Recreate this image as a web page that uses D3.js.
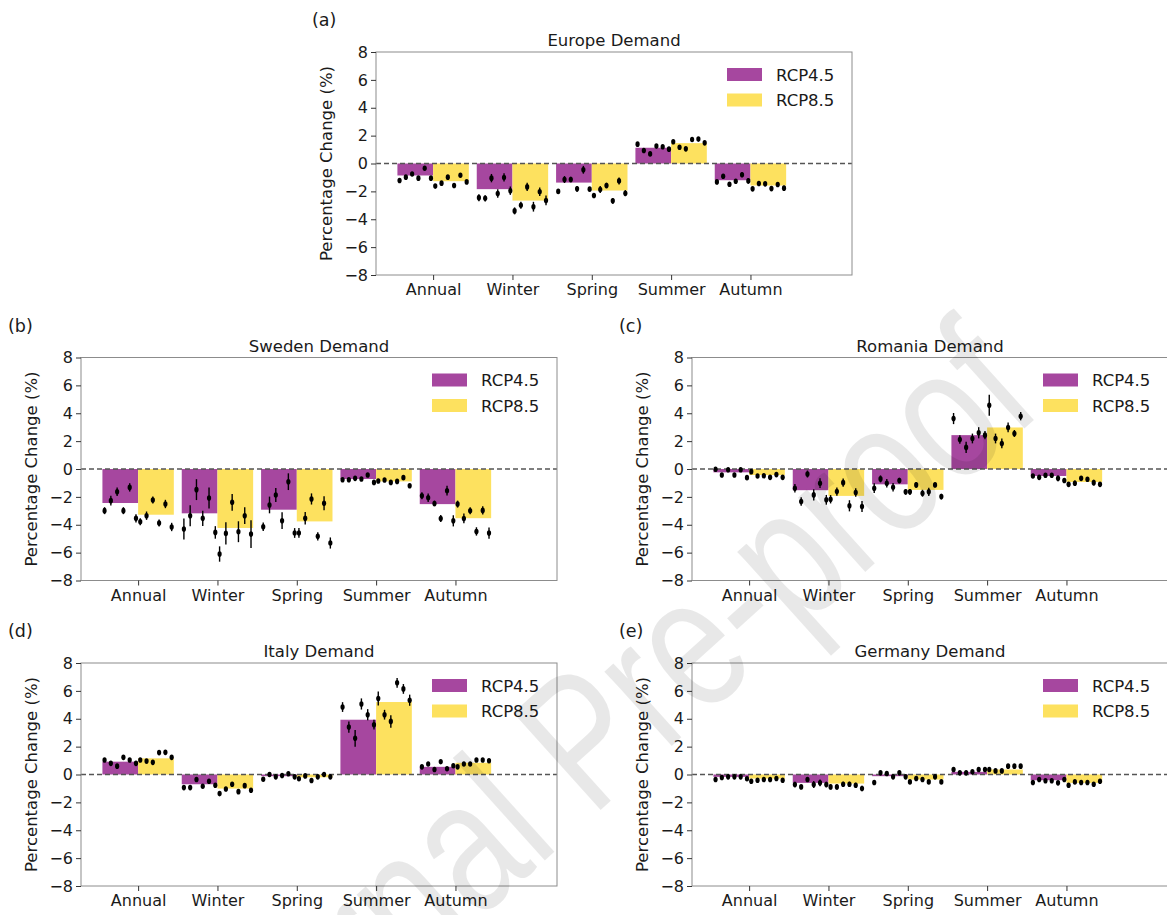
<!DOCTYPE html>
<html lang="en">
<head>
<meta charset="UTF-8">
<title>Percentage Change in Demand</title>
<script src="https://d3js.org/d3.v7.min.js"></script>
<style>
    body { margin: 0; background: #fff; }
    svg { display: block; }
    text { font-family: "DejaVu Sans", sans-serif; fill: #1a1a1a; }
    .axis path { display: none; }
    .axis line { stroke: #333; }
    .axis text { font-size: 16px; fill: #1a1a1a; }
</style>
</head>
<body>
<svg width="1167" height="915"></svg>
<script>
const categories = ["Annual", "Winter", "Spring", "Summer", "Autumn"];
const scenarios = ["RCP4.5", "RCP8.5"];
const yTicks = [-8, -6, -4, -2, 0, 2, 4, 6, 8];

// bar = ensemble mean per season, models = individual runs (6 per bar), err = half length of the whisker
const europeBar45 = [-0.86, -1.84, -1.37, 1.13, -1.20];
const europeBar85 = [-1.27, -2.66, -1.94, 1.46, -1.58];
const europeModels45 = [
    [-1.22, -0.98, -0.75, -1.05, -0.34, -1.05],
    [-2.45, -2.50, -1.05, -2.15, -1.00, -1.95],
    [-2.00, -1.15, -1.15, -1.82, -0.45, -1.84],
    [1.39, 0.93, 0.69, 1.25, 1.20, 1.03],
    [-1.32, -0.91, -1.49, -1.27, -0.81, -1.25]];
const europeErr45 = [
    [0.10, 0.10, 0.10, 0.12, 0.12, 0.12],
    [0.25, 0.22, 0.30, 0.30, 0.30, 0.30],
    [0.15, 0.25, 0.20, 0.20, 0.28, 0.15],
    [0.10, 0.10, 0.12, 0.10, 0.10, 0.10],
    [0.12, 0.15, 0.15, 0.10, 0.18, 0.20]];
const europeModels85 = [
    [-1.62, -1.41, -0.98, -1.58, -0.84, -1.32],
    [-3.40, -3.00, -1.68, -3.10, -2.03, -2.65],
    [-2.30, -1.87, -1.58, -2.68, -1.25, -2.13],
    [1.56, 1.17, 1.05, 1.72, 1.75, 1.48],
    [-1.82, -1.44, -1.46, -1.80, -1.51, -1.77]];
const europeErr85 = [
    [0.10, 0.10, 0.10, 0.10, 0.10, 0.12],
    [0.25, 0.25, 0.30, 0.35, 0.30, 0.35],
    [0.15, 0.25, 0.20, 0.20, 0.25, 0.22],
    [0.12, 0.10, 0.10, 0.10, 0.10, 0.12],
    [0.15, 0.12, 0.12, 0.12, 0.15, 0.18]];

const swedenBar45 = [-2.44, -3.18, -2.92, -0.72, -2.52];
const swedenBar85 = [-3.28, -4.23, -3.76, -0.89, -3.53];
const swedenModels45 = [
    [-2.99, -2.27, -1.63, -2.99, -1.32, -3.54],
    [-4.30, -3.35, -1.48, -3.54, -2.08, -4.55],
    [-4.14, -2.58, -1.87, -3.71, -0.91, -4.59],
    [-0.77, -0.77, -0.67, -0.72, -0.43, -0.96],
    [-1.92, -2.06, -2.47, -3.55, -1.56, -3.72]];
const swedenErr45 = [
    [0.25, 0.35, 0.30, 0.25, 0.30, 0.30],
    [0.75, 0.75, 0.75, 0.55, 0.75, 0.45],
    [0.30, 0.60, 0.50, 0.60, 0.60, 0.35],
    [0.08, 0.08, 0.08, 0.08, 0.08, 0.10],
    [0.25, 0.30, 0.20, 0.25, 0.35, 0.40]];
const swedenModels85 = [
    [-3.78, -3.35, -2.22, -3.88, -2.51, -4.16],
    [-6.10, -4.62, -2.39, -4.50, -3.35, -4.67],
    [-4.59, -3.54, -2.15, -4.83, -2.46, -5.31],
    [-0.86, -0.79, -0.96, -0.89, -0.62, -1.20],
    [-2.52, -3.55, -3.00, -4.48, -2.97, -4.60]];
const swedenErr85 = [
    [0.25, 0.30, 0.25, 0.25, 0.30, 0.30],
    [0.55, 0.80, 0.60, 0.75, 0.60, 1.00],
    [0.35, 0.45, 0.40, 0.30, 0.50, 0.40],
    [0.08, 0.08, 0.08, 0.08, 0.08, 0.10],
    [0.25, 0.35, 0.25, 0.30, 0.30, 0.40]];

const romaniaBar45 = [-0.24, -1.52, -1.10, 2.43, -0.50];
const romaniaBar85 = [-0.43, -1.93, -1.50, 2.98, -0.93];
const romaniaModels45 = [
    [-0.02, -0.43, -0.05, -0.43, -0.05, -0.62],
    [-1.38, -2.33, -0.36, -1.86, -1.02, -2.21],
    [-1.38, -0.71, -1.02, -1.31, -0.83, -1.64],
    [3.62, 2.12, 1.55, 2.19, 2.60, 2.43],
    [-0.50, -0.60, -0.45, -0.45, -0.67, -0.83]];
const romaniaErr45 = [
    [0.10, 0.15, 0.10, 0.15, 0.10, 0.15],
    [0.30, 0.30, 0.25, 0.40, 0.35, 0.35],
    [0.35, 0.25, 0.30, 0.30, 0.20, 0.20],
    [0.40, 0.30, 0.40, 0.35, 0.40, 0.30],
    [0.15, 0.15, 0.15, 0.15, 0.20, 0.15]];
const romaniaModels85 = [
    [-0.19, -0.50, -0.48, -0.60, -0.40, -0.60],
    [-2.17, -1.62, -0.98, -2.64, -1.69, -2.69],
    [-1.64, -1.14, -1.74, -1.64, -1.14, -1.98],
    [4.57, 2.19, 1.83, 2.98, 2.55, 3.79],
    [-1.10, -1.02, -0.67, -0.74, -0.98, -1.10]];
const romaniaErr85 = [
    [0.12, 0.12, 0.12, 0.12, 0.12, 0.12],
    [0.30, 0.30, 0.30, 0.40, 0.30, 0.40],
    [0.20, 0.20, 0.25, 0.30, 0.15, 0.20],
    [0.75, 0.35, 0.35, 0.35, 0.25, 0.30],
    [0.15, 0.20, 0.15, 0.15, 0.20, 0.15]];

const italyBar45 = [0.92, -0.70, -0.12, 3.93, 0.55];
const italyBar85 = [1.16, -1.01, -0.20, 5.20, 0.84];
const italyModels45 = [
    [1.04, 0.80, 0.60, 1.23, 1.04, 0.80],
    [-0.94, -0.94, -0.36, -0.84, -0.48, -0.77],
    [-0.34, 0.00, -0.17, -0.07, 0.05, -0.17],
    [4.84, 3.40, 2.60, 5.06, 4.29, 3.57],
    [0.55, 0.75, 0.36, 0.92, 0.41, 0.63]];
const italyErr45 = [
    [0.10, 0.10, 0.10, 0.10, 0.10, 0.10],
    [0.12, 0.12, 0.12, 0.12, 0.12, 0.12],
    [0.08, 0.08, 0.08, 0.08, 0.08, 0.08],
    [0.35, 0.40, 0.60, 0.40, 0.40, 0.35],
    [0.10, 0.10, 0.10, 0.10, 0.10, 0.10]];
const italyModels85 = [
    [1.04, 0.96, 0.87, 1.57, 1.59, 1.23],
    [-1.37, -1.04, -0.70, -1.23, -0.80, -1.13],
    [-0.31, -0.10, -0.43, -0.17, 0.00, -0.17],
    [5.45, 4.29, 3.81, 6.58, 6.14, 5.33],
    [0.55, 0.75, 0.75, 1.04, 1.04, 0.99]];
const italyErr85 = [
    [0.10, 0.10, 0.10, 0.10, 0.10, 0.10],
    [0.12, 0.12, 0.12, 0.12, 0.12, 0.12],
    [0.08, 0.08, 0.08, 0.08, 0.08, 0.08],
    [0.50, 0.35, 0.45, 0.35, 0.35, 0.40],
    [0.10, 0.10, 0.10, 0.10, 0.10, 0.10]];

const germanyBar45 = [-0.17, -0.60, -0.12, 0.19, -0.41];
const germanyBar85 = [-0.29, -0.65, -0.36, 0.36, -0.60];
const germanyModels45 = [
    [-0.36, -0.22, -0.17, -0.17, -0.17, -0.31],
    [-0.72, -0.89, -0.36, -0.72, -0.60, -0.72],
    [-0.57, 0.12, 0.07, -0.17, 0.12, -0.17],
    [0.36, 0.12, 0.12, 0.19, 0.36, 0.36],
    [-0.57, -0.36, -0.45, -0.45, -0.60, -0.36]];
const germanyErr45 = [
    [0.08, 0.08, 0.08, 0.08, 0.08, 0.08],
    [0.20, 0.12, 0.12, 0.25, 0.25, 0.20],
    [0.10, 0.10, 0.08, 0.08, 0.12, 0.08],
    [0.08, 0.08, 0.08, 0.08, 0.08, 0.08],
    [0.10, 0.08, 0.08, 0.08, 0.10, 0.08]];
const germanyModels85 = [
    [-0.48, -0.41, -0.36, -0.36, -0.29, -0.41],
    [-0.89, -0.89, -0.70, -0.70, -0.77, -1.00],
    [-0.53, -0.29, -0.36, -0.53, -0.17, -0.53],
    [0.36, 0.26, 0.26, 0.60, 0.60, 0.60],
    [-0.77, -0.53, -0.57, -0.57, -0.70, -0.48]];
const germanyErr85 = [
    [0.08, 0.08, 0.08, 0.08, 0.08, 0.08],
    [0.18, 0.18, 0.18, 0.18, 0.18, 0.20],
    [0.10, 0.08, 0.08, 0.10, 0.10, 0.10],
    [0.08, 0.08, 0.08, 0.08, 0.08, 0.08],
    [0.10, 0.08, 0.08, 0.08, 0.10, 0.08]];

const colors = ["#a6479f", "#fde15f"];
const W = 476, H = 223;
const barW = 0.45;

const panels = [
    {tag: "(a)", title: "Europe Demand", left: 376, top: 52, tagX: 312,
     bars: [europeBar45, europeBar85], models: [europeModels45, europeModels85], errs: [europeErr45, europeErr85]},
    {tag: "(b)", title: "Sweden Demand", left: 81, top: 357.5, tagX: 8,
     bars: [swedenBar45, swedenBar85], models: [swedenModels45, swedenModels85], errs: [swedenErr45, swedenErr85]},
    {tag: "(c)", title: "Romania Demand", left: 692, top: 357.5, tagX: 619,
     bars: [romaniaBar45, romaniaBar85], models: [romaniaModels45, romaniaModels85], errs: [romaniaErr45, romaniaErr85]},
    {tag: "(d)", title: "Italy Demand", left: 81, top: 663, tagX: 8,
     bars: [italyBar45, italyBar85], models: [italyModels45, italyModels85], errs: [italyErr45, italyErr85]},
    {tag: "(e)", title: "Germany Demand", left: 692, top: 663, tagX: 619,
     bars: [germanyBar45, germanyBar85], models: [germanyModels45, germanyModels85], errs: [germanyErr45, germanyErr85]}
];

const svg = d3.select("svg");

// spread of the 6 model points across one bar (in x units)
const spread = d3.scaleLinear().domain([0, 5]).range([0.027, 0.423]);

panels.forEach(p => {
    const x = d3.scaleLinear().domain([-0.72, 5.28]).range([p.left, p.left + W]);
    const y = d3.scaleLinear().domain([-8, 8]).range([p.top + H, p.top]);
    const g = svg.append("g");

    // bars
    p.bars.forEach((vals, s) => {
        g.selectAll(null)
            .data(vals)
            .enter().append("rect")
            .attr("x", (d, i) => x(i - barW + s * barW))
            .attr("width", x(barW) - x(0))
            .attr("y", d => y(Math.max(0, d)))
            .attr("height", d => Math.abs(y(d) - y(0)))
            .attr("fill", colors[s]);
    });

    // zero line
    g.append("line")
        .attr("x1", p.left).attr("x2", p.left + W)
        .attr("y1", y(0)).attr("y2", y(0))
        .attr("stroke", "#555").attr("stroke-width", 1.3)
        .attr("stroke-dasharray", "5,3");

    // individual models with whiskers
    p.models.forEach((groups, s) => {
        groups.forEach((vals, i) => {
            const pts = vals.map((v, j) => ({
                cx: x(i - barW + s * barW + spread(j)),
                v: v,
                e: p.errs[s][i][j]
            }));
            g.selectAll(null).data(pts).enter().append("line")
                .attr("x1", d => d.cx).attr("x2", d => d.cx)
                .attr("y1", d => y(d.v - d.e)).attr("y2", d => y(d.v + d.e))
                .attr("stroke", "#000").attr("stroke-width", 1.4);
            g.selectAll(null).data(pts).enter().append("ellipse")
                .attr("cx", d => d.cx).attr("cy", d => y(d.v))
                .attr("rx", 2.1).attr("ry", 2.8)
                .attr("fill", "#000");
        });
    });

    // frame
    g.append("rect")
        .attr("x", p.left).attr("y", p.top)
        .attr("width", W).attr("height", H)
        .attr("fill", "none").attr("stroke", "#8c8c8c").attr("stroke-width", 1);

    // axes
    g.append("g").attr("class", "axis")
        .attr("transform", `translate(${p.left},0)`)
        .call(d3.axisLeft(y).tickValues(yTicks).tickSize(5).tickPadding(3));

    g.append("g").attr("class", "axis")
        .attr("transform", `translate(0,${p.top + H})`)
        .call(d3.axisBottom(x).tickValues(d3.range(categories.length))
            .tickFormat(i => categories[i]).tickSize(5).tickPadding(4));

    // y label
    g.append("text")
        .attr("transform", `translate(${p.left - 44},${p.top + H / 2}) rotate(-90)`)
        .attr("text-anchor", "middle")
        .style("font-size", "16.5px")
        .text("Percentage Change (%)");

    // title
    g.append("text")
        .attr("x", p.left + W / 2).attr("y", p.top - 6)
        .attr("text-anchor", "middle")
        .style("font-size", "16.5px")
        .text(p.title);

    // panel tag
    g.append("text")
        .attr("x", p.tagX).attr("y", p.top - 26)
        .style("font-size", "17.5px")
        .text(p.tag);

    // legend
    scenarios.forEach((name, s) => {
        g.append("rect")
            .attr("x", p.left + W - 125).attr("y", p.top + 16 + s * 25.5)
            .attr("width", 35).attr("height", 13)
            .attr("fill", colors[s]);
        g.append("text")
            .attr("x", p.left + W - 76).attr("y", p.top + 28.5 + s * 25.5)
            .style("font-size", "16.5px")
            .text(name);
    });
});

// journal watermark
svg.append("text")
    .attr("transform", "translate(1045,410) rotate(-42) scale(0.77,1)")
    .attr("text-anchor", "end")
    .style("font-family", "Liberation Sans, sans-serif")
    .style("font-size", "190px")
    .style("fill", "rgba(0,0,0,0.09)")
    .text("Journal Pre-proof");
</script>
</body>
</html>
